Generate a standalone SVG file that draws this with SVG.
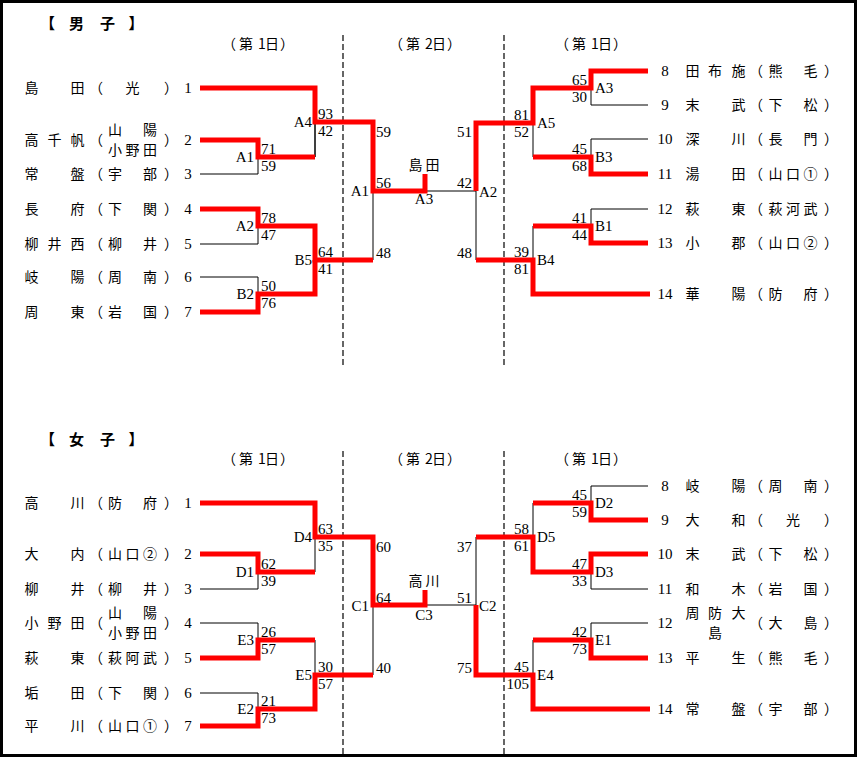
<svg xmlns="http://www.w3.org/2000/svg" width="857" height="757" viewBox="0 0 857 757">
<style>
.t{font-family:"Noto Sans CJK JP","Noto Sans CJK SC",sans-serif;font-size:14px;text-anchor:middle;fill:#000}
.ttl{font-family:"Noto Sans CJK JP",sans-serif;font-size:15px;font-weight:bold;text-anchor:middle;fill:#000}
.n{font-family:"Liberation Serif",serif;font-size:15px;fill:#000}
.e{text-anchor:end}
.m{text-anchor:middle}
.red{fill:none;stroke:#ff0000;stroke-width:5;stroke-linejoin:miter}
.blk{fill:none;stroke:#000;stroke-width:1}
.dash{fill:none;stroke:#000;stroke-width:1.2;stroke-dasharray:6 3}
</style>
<rect x="1.5" y="1.5" width="854" height="754" fill="#fff" stroke="#000" stroke-width="3"/>

<g id="titles">
<text class="ttl" x="47.5 76.5 107.5 136" y="29">【男子】</text>
<text class="ttl" x="47.5 76.5 107.5 136" y="445">【女子】</text>
<text class="t" x="229 246 262 272 287" y="49">（第1日）</text>
<text class="t" x="396 413 429 439 454" y="49">（第2日）</text>
<text class="t" x="562 579 595 605 620" y="49">（第1日）</text>
<text class="t" x="229 246 262 272 287" y="464">（第1日）</text>
<text class="t" x="396 413 429 439 454" y="464">（第2日）</text>
<text class="t" x="562 579 595 605 620" y="464">（第1日）</text>
</g>

<g id="dividers">
<line class="dash" x1="343" y1="35" x2="343" y2="368"/>
<line class="dash" x1="504" y1="35" x2="504" y2="368"/>
<line class="dash" x1="343" y1="451" x2="343" y2="755"/>
<line class="dash" x1="504" y1="451" x2="504" y2="755"/>
</g>

<g id="connectors">
<!-- men black -->
<path class="blk" d="M200,174H258V157 M315,122V157 M200,244H258V226 M200,277H258V294 M373,191V260 M425,191H476 M648,105H591V88 M648,139H591V157 M533,123V157 M648,209H591V226 M533,226V260 M476,191V260 M315,260V294 M315,122V157"/>
<!-- men red -->
<path class="red" d="M200,88H315V122H373V191H425V174"/>
<path class="red" d="M200,140H258V157H315"/>
<path class="red" d="M200,209H258V226H315V260H373"/>
<path class="red" d="M200,312H258V294H315V260"/>
<path class="red" d="M648,71H591V88H533V123H476V191"/>
<path class="red" d="M648,174H591V157H533"/>
<path class="red" d="M648,243H591V226H533"/>
<path class="red" d="M650,294H533V260H476"/>
<!-- women black -->
<path class="blk" d="M200,589H258V572 M315,537V572 M200,623H258V640 M315,640V675 M200,693H258V709 M373,605V675 M425,605H476 M648,486H591V503 M533,503V537 M648,589H591V572 M476,537V605 M648,623H591V640 M533,640V675"/>
<!-- women red -->
<path class="red" d="M200,503H315V537H373V605H425V590"/>
<path class="red" d="M200,554H258V572H315"/>
<path class="red" d="M200,658H258V640H315"/>
<path class="red" d="M200,726H258V709H315V675H373"/>
<path class="red" d="M648,520H591V503H533"/>
<path class="red" d="M648,554H591V572H533V537H476"/>
<path class="red" d="M648,658H591V640H533"/>
<path class="red" d="M650,709H533V675H476V605"/>
</g>

<!-- men teams left -->
<g id="m1"><text class="t" x="31.5 77.5" y="93">島田</text><text class="t" x="96 132.5 171" y="93">（光）</text><text class="n m" x="188" y="93">1</text></g>
<g id="m2"><text class="t" x="31.5 54.5 77.5" y="145">高千帆</text><text class="t" x="96" y="145">（</text><text class="t" x="115 150" y="135">山陽</text><text class="t" x="115 132.5 150" y="155">小野田</text><text class="t" x="171" y="145">）</text><text class="n m" x="188" y="145">2</text></g>
<g id="m3"><text class="t" x="31.5 77.5" y="179">常盤</text><text class="t" x="96 115 150 171" y="179">（宇部）</text><text class="n m" x="188" y="179">3</text></g>
<g id="m4"><text class="t" x="31.5 77.5" y="214">長府</text><text class="t" x="96 115 150 171" y="214">（下関）</text><text class="n m" x="188" y="214">4</text></g>
<g id="m5"><text class="t" x="31.5 54.5 77.5" y="249">柳井西</text><text class="t" x="96 115 150 171" y="249">（柳井）</text><text class="n m" x="188" y="249">5</text></g>
<g id="m6"><text class="t" x="31.5 77.5" y="282">岐陽</text><text class="t" x="96 115 150 171" y="282">（周南）</text><text class="n m" x="188" y="282">6</text></g>
<g id="m7"><text class="t" x="31.5 77.5" y="317">周東</text><text class="t" x="96 115 150 171" y="317">（岩国）</text><text class="n m" x="188" y="317">7</text></g>
<!-- men teams right -->
<g id="m8"><text class="n m" x="665" y="76">8</text><text class="t" x="692.5 715 738.5" y="76">田布施</text><text class="t" x="756 775.5 810.5 831" y="76">（熊毛）</text></g>
<g id="m9"><text class="n m" x="665" y="110">9</text><text class="t" x="692.5 738.5" y="110">末武</text><text class="t" x="756 775.5 810.5 831" y="110">（下松）</text></g>
<g id="m10"><text class="n m" x="665" y="144">10</text><text class="t" x="692.5 738.5" y="144">深川</text><text class="t" x="756 775.5 810.5 831" y="144">（長門）</text></g>
<g id="m11"><text class="n m" x="665" y="179">11</text><text class="t" x="692.5 738.5" y="179">湯田</text><text class="t" x="756 775.5 793 810.5 831" y="179">（山口①）</text></g>
<g id="m12"><text class="n m" x="665" y="214">12</text><text class="t" x="692.5 738.5" y="214">萩東</text><text class="t" x="756 775.5 793 810.5 831" y="214">（萩河武）</text></g>
<g id="m13"><text class="n m" x="665" y="248">13</text><text class="t" x="692.5 738.5" y="248">小郡</text><text class="t" x="756 775.5 793 810.5 831" y="248">（山口②）</text></g>
<g id="m14"><text class="n m" x="665" y="299">14</text><text class="t" x="692.5 738.5" y="299">華陽</text><text class="t" x="756 775.5 810.5 831" y="299">（防府）</text></g>

<!-- men matches -->
<g id="mA1"><text class="n e" x="254" y="162">A1</text><text class="n" x="261" y="154">71</text><text class="n" x="261" y="171">59</text></g>
<g id="mA2"><text class="n e" x="254" y="231">A2</text><text class="n" x="261" y="223">78</text><text class="n" x="261" y="240">47</text></g>
<g id="mB2"><text class="n e" x="254" y="299">B2</text><text class="n" x="261" y="291">50</text><text class="n" x="261" y="308">76</text></g>
<g id="mA4"><text class="n e" x="312" y="127">A4</text><text class="n" x="318" y="119">93</text><text class="n" x="318" y="136">42</text></g>
<g id="mB5"><text class="n e" x="312" y="265">B5</text><text class="n" x="318" y="257">64</text><text class="n" x="318" y="274">41</text></g>
<g id="mA1d2"><text class="n e" x="369" y="196">A1</text><text class="n" x="376" y="137">59</text><text class="n" x="376" y="188">56</text><text class="n" x="376" y="258">48</text></g>
<g id="mA3d2"><text class="t" x="415.5 432.5" y="170">島田</text><text class="n m" x="424" y="204">A3</text></g>
<g id="mA2d2"><text class="n" x="479" y="197">A2</text><text class="n e" x="472" y="137">51</text><text class="n e" x="472" y="188">42</text><text class="n e" x="472" y="258">48</text></g>
<g id="mA5"><text class="n" x="537" y="128">A5</text><text class="n e" x="529" y="120">81</text><text class="n e" x="529" y="137">52</text></g>
<g id="mB4"><text class="n" x="537" y="265">B4</text><text class="n e" x="529" y="257">39</text><text class="n e" x="529" y="274">81</text></g>
<g id="mA3"><text class="n" x="595" y="93">A3</text><text class="n e" x="587" y="85">65</text><text class="n e" x="587" y="102">30</text></g>
<g id="mB3"><text class="n" x="595" y="162">B3</text><text class="n e" x="587" y="154">45</text><text class="n e" x="587" y="171">68</text></g>
<g id="mB1"><text class="n" x="595" y="231">B1</text><text class="n e" x="587" y="223">41</text><text class="n e" x="587" y="240">44</text></g>

<!-- women teams left -->
<g id="w1"><text class="t" x="31.5 77.5" y="508">高川</text><text class="t" x="96 115 150 171" y="508">（防府）</text><text class="n m" x="188" y="508">1</text></g>
<g id="w2"><text class="t" x="31.5 77.5" y="559">大内</text><text class="t" x="96 115 132.5 150 171" y="559">（山口②）</text><text class="n m" x="188" y="559">2</text></g>
<g id="w3"><text class="t" x="31.5 77.5" y="594">柳井</text><text class="t" x="96 115 150 171" y="594">（柳井）</text><text class="n m" x="188" y="594">3</text></g>
<g id="w4"><text class="t" x="31.5 54.5 77.5" y="628">小野田</text><text class="t" x="96" y="628">（</text><text class="t" x="115 150" y="618">山陽</text><text class="t" x="115 132.5 150" y="638">小野田</text><text class="t" x="171" y="628">）</text><text class="n m" x="188" y="628">4</text></g>
<g id="w5"><text class="t" x="31.5 77.5" y="663">萩東</text><text class="t" x="96 115 132.5 150 171" y="663">（萩阿武）</text><text class="n m" x="188" y="663">5</text></g>
<g id="w6"><text class="t" x="31.5 77.5" y="698">垢田</text><text class="t" x="96 115 150 171" y="698">（下関）</text><text class="n m" x="188" y="698">6</text></g>
<g id="w7"><text class="t" x="31.5 77.5" y="731">平川</text><text class="t" x="96 115 132.5 150 171" y="731">（山口①）</text><text class="n m" x="188" y="731">7</text></g>
<!-- women teams right -->
<g id="w8"><text class="n m" x="665" y="491">8</text><text class="t" x="692.5 738.5" y="491">岐陽</text><text class="t" x="756 775.5 810.5 831" y="491">（周南）</text></g>
<g id="w9"><text class="n m" x="665" y="525">9</text><text class="t" x="692.5 738.5" y="525">大和</text><text class="t" x="756 793 831" y="525">（光）</text></g>
<g id="w10"><text class="n m" x="665" y="559">10</text><text class="t" x="692.5 738.5" y="559">末武</text><text class="t" x="756 775.5 810.5 831" y="559">（下松）</text></g>
<g id="w11"><text class="n m" x="665" y="594">11</text><text class="t" x="692.5 738.5" y="594">和木</text><text class="t" x="756 775.5 810.5 831" y="594">（岩国）</text></g>
<g id="w12"><text class="n m" x="665" y="628">12</text><text class="t" x="692.5 715 738.5" y="618">周防大</text><text class="t" x="715" y="638">島</text><text class="t" x="756 775.5 810.5 831" y="628">（大島）</text></g>
<g id="w13"><text class="n m" x="665" y="663">13</text><text class="t" x="692.5 738.5" y="663">平生</text><text class="t" x="756 775.5 810.5 831" y="663">（熊毛）</text></g>
<g id="w14"><text class="n m" x="665" y="714">14</text><text class="t" x="692.5 738.5" y="714">常盤</text><text class="t" x="756 775.5 810.5 831" y="714">（宇部）</text></g>

<!-- women matches -->
<g id="wD1"><text class="n e" x="254" y="577">D1</text><text class="n" x="261" y="569">62</text><text class="n" x="261" y="586">39</text></g>
<g id="wE3"><text class="n e" x="254" y="645">E3</text><text class="n" x="261" y="637">26</text><text class="n" x="261" y="654">57</text></g>
<g id="wE2"><text class="n e" x="254" y="714">E2</text><text class="n" x="261" y="706">21</text><text class="n" x="261" y="723">73</text></g>
<g id="wD4"><text class="n e" x="312" y="542">D4</text><text class="n" x="318" y="534">63</text><text class="n" x="318" y="551">35</text></g>
<g id="wE5"><text class="n e" x="312" y="680">E5</text><text class="n" x="318" y="672">30</text><text class="n" x="318" y="689">57</text></g>
<g id="wC1"><text class="n e" x="369" y="611">C1</text><text class="n" x="376" y="552">60</text><text class="n" x="376" y="603">64</text><text class="n" x="376" y="673">40</text></g>
<g id="wC3"><text class="t" x="415.5 432.5" y="586">高川</text><text class="n m" x="424" y="620">C3</text></g>
<g id="wC2"><text class="n" x="479" y="611">C2</text><text class="n e" x="472" y="552">37</text><text class="n e" x="472" y="603">51</text><text class="n e" x="472" y="673">75</text></g>
<g id="wD5"><text class="n" x="537" y="542">D5</text><text class="n e" x="529" y="534">58</text><text class="n e" x="529" y="551">61</text></g>
<g id="wE4"><text class="n" x="537" y="680">E4</text><text class="n e" x="529" y="672">45</text><text class="n e" x="529" y="689">105</text></g>
<g id="wD2"><text class="n" x="595" y="508">D2</text><text class="n e" x="587" y="500">45</text><text class="n e" x="587" y="517">59</text></g>
<g id="wD3"><text class="n" x="595" y="577">D3</text><text class="n e" x="587" y="569">47</text><text class="n e" x="587" y="586">33</text></g>
<g id="wE1"><text class="n" x="595" y="645">E1</text><text class="n e" x="587" y="637">42</text><text class="n e" x="587" y="654">73</text></g>
</svg>
